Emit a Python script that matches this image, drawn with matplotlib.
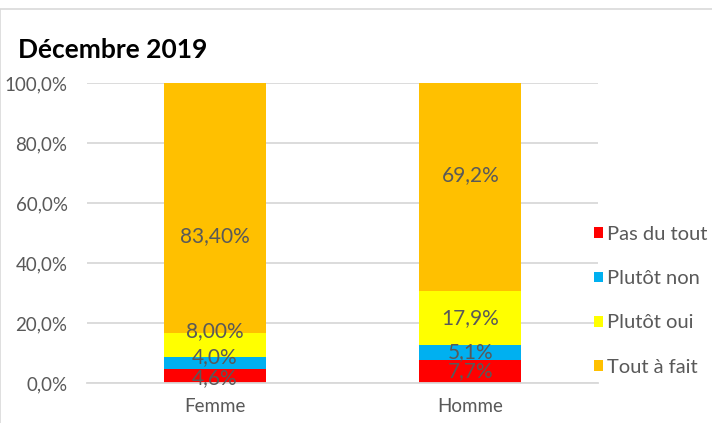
import numpy as np
import matplotlib.pyplot as plt
from matplotlib.patches import Rectangle

plt.rcParams['font.family'] = ['Lato', 'DejaVu Sans']

CATEGORIES = ["Femme", "Homme"]
SERIES = ["Pas du tout", "Plutôt non", "Plutôt oui", "Tout à fait"]
VALUES = {
    "Pas du tout": [4.6, 7.7],
    "Plutôt non": [4.0, 5.1],
    "Plutôt oui": [8.0, 17.9],
    "Tout à fait": [83.4, 69.2],
}
LABELS = {
    "Pas du tout": ["4,6%", "7,7%"],
    "Plutôt non": ["4,0%", "5,1%"],
    "Plutôt oui": ["8,00%", "17,9%"],
    "Tout à fait": ["83,40%", "69,2%"],
}
COLORS = ["#FF0000", "#00B0F0", "#FFFF00", "#FFC000"]
# some labels were moved by hand in the original
NUDGE = {
    "Pas du tout": [-0.6, 0],
    "Plutôt non": [2.0, 0],
    "Plutôt oui": [4.8, 0],
    "Tout à fait": [-9.5, 4.0],
}

GRAY = "#595959"
GRID = "#D9D9D9"

fig = plt.figure(figsize=(7.12, 4.23), dpi=100)
ax = fig.add_axes([0.1222, 0.0946, 0.7177, 0.7092])

x = np.arange(len(CATEGORIES))
bottom = np.zeros(len(CATEGORIES))
handles = []
for name, color in zip(SERIES, COLORS):
    vals = np.array(VALUES[name])
    h = ax.bar(x, vals, 0.4, bottom=bottom, color=color, label=name, zorder=2)
    handles.append(h)
    for i, v in enumerate(vals):
        ax.text(x[i], bottom[i] + v / 2 + NUDGE[name][i], LABELS[name][i],
                ha="center", va="center", color=GRAY, fontsize=15, zorder=3)
    bottom += vals

ax.set_xlim(-0.5, 1.5)
ax.set_ylim(0, 100)
ax.set_yticks(np.arange(0, 101, 20))
ax.set_yticklabels(["{:.1f}%".format(t).replace(".", ",") for t in np.arange(0, 101, 20)])
ax.set_xticks(x)
ax.set_xticklabels(CATEGORIES)
ax.yaxis.grid(True, color=GRID, linewidth=1.3, zorder=0)
ax.set_axisbelow(True)
for s in ["left", "right", "top"]:
    ax.spines[s].set_visible(False)
ax.spines["bottom"].set_color(GRID)
ax.spines["bottom"].set_linewidth(1.3)
ax.tick_params(axis="both", length=0, colors=GRAY, labelsize=13.5)
ax.tick_params(axis="y", pad=14)
ax.tick_params(axis="x", pad=11)

fig.text(0.025, 0.882, "Décembre 2019", fontsize=19, fontweight="bold",
         ha="left", va="center", color="black")

leg = fig.legend(handles=handles, labels=SERIES, loc="upper left",
                 bbox_to_anchor=(594 / 712, 1 - 226 / 423), frameon=False,
                 fontsize=14.5, handlelength=0.45, handleheight=0.45,
                 handletextpad=0.2, labelspacing=1.35, borderpad=0,
                 borderaxespad=0, labelcolor=GRAY)

fig.patches.append(Rectangle((0.0007, -0.1), 1.2, (423 - 9) / 423 + 0.1,
                             transform=fig.transFigure, fill=False,
                             edgecolor=GRID, linewidth=1.2))

fig.savefig("out.png", dpi=100)
